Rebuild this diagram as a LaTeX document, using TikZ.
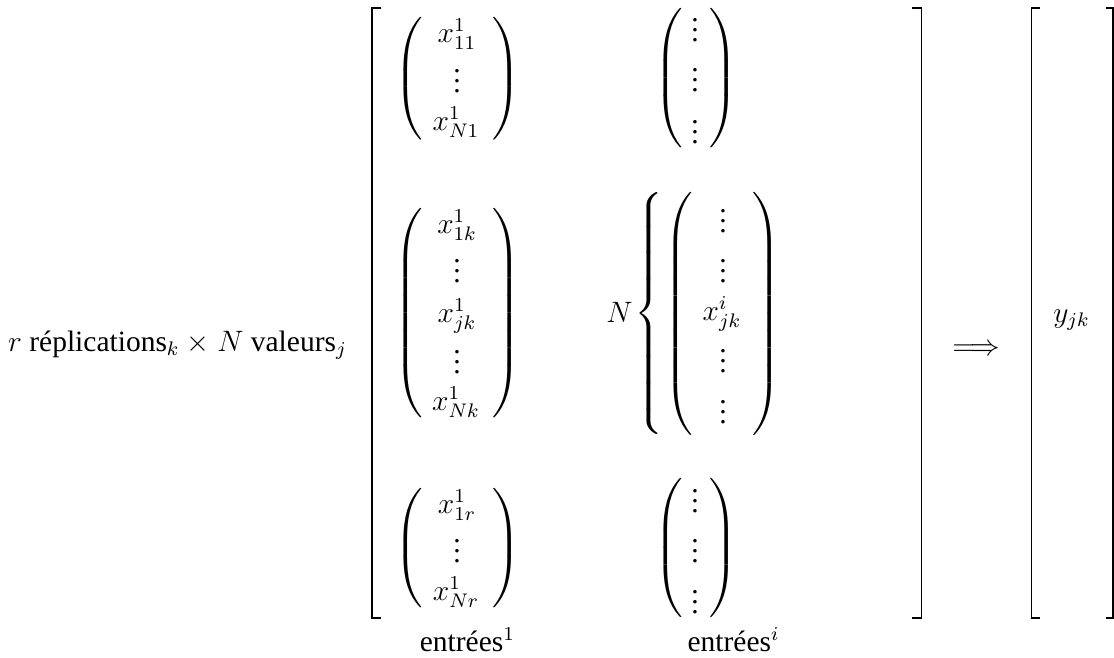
\documentclass[tikz,border=0pt]{standalone}
\usepackage{fontspec}
\setmainfont{Liberation Serif}
\newfontfamily\tfont{Liberation Serif}
\usepackage{graphicx}
\DeclareFontShape{OMX}{cmex}{m}{n}{<->cmex10}{}
\newdimen\pxunit \pxunit=0.4068pt
\newcommand\tallpar[2]{\resizebox*{1.1\width}{#2}{$\delimiterfactor=1000 \delimitershortfall=0pt \nulldelimiterspace=0pt \left#1\vcenter to #2{}\right.$}}
\newcommand\tallparR[2]{\resizebox*{1.1\width}{#2}{$\delimiterfactor=1000 \delimitershortfall=0pt \nulldelimiterspace=0pt \left.\vcenter to #2{}\right#1$}}
\tikzset{
  ent/.style={inner sep=0pt, anchor=base},
  dts/.style={inner sep=0pt, anchor=base},
  par/.style={inner sep=0pt, anchor=center},
  brk/.style={line width=0.55pt, line join=miter},
}
\begin{document}
\begin{tikzpicture}[x=0.4068pt, y=-0.4068pt, font=\tfont\fontsize{12}{14.4}\selectfont]
\useasboundingbox (0,0) rectangle (1114,657);
% left label
\node[ent] (lab) at (177.5,351) {$r$ \tfont réplications$_k$ $\times$ $N$ valeurs$_j$};
% big brackets
\draw[brk] (381,8) -- (372,8) -- (372,618) -- (381,618);
\draw[brk] (912,8) -- (921.5,8) -- (921.5,618) -- (912,618);
\draw[brk] (1040,8) -- (1031.7,8) -- (1031.7,618) -- (1040,618);
\draw[brk] (1106,8) -- (1113,8) -- (1113,618) -- (1106,618);
% column 1, top group
\node[par] (p1tl) at (409,78.5) {\tallpar{(}{123\pxunit}};
\node[par] (p1tr) at (507,78.5) {\tallparR{)}{123\pxunit}};
\node[ent] (e11) at (457,42) {$x^1_{11}$};
\node[dts] (d11) at (457,92) {$\vdots$};
\node[ent] (eN1) at (456,130) {$x^1_{N1}$};
% column 1, middle group
\node[par] (p1ml) at (409,313) {\tallpar{(}{210\pxunit}};
\node[par] (p1mr) at (507,313) {\tallparR{)}{210\pxunit}};
\node[ent] (e1k) at (457,233) {$x^1_{1k}$};
\node[dts] (d1k) at (457,282) {$\vdots$};
\node[ent] (ejk) at (457,322) {$x^1_{jk}$};
\node[dts] (d2k) at (457,373) {$\vdots$};
\node[ent] (eNk) at (456,410) {$x^1_{Nk}$};
% column 1, bottom group
\node[par] (p1bl) at (409,548) {\tallpar{(}{120\pxunit}};
\node[par] (p1br) at (507,548) {\tallparR{)}{120\pxunit}};
\node[ent] (e1r) at (457,513) {$x^1_{1r}$};
\node[dts] (d1r) at (457,562) {$\vdots$};
\node[ent] (eNr) at (456,600) {$x^1_{Nr}$};
\node[ent] (in1) at (467.4,651) {\tfont entrées$^1$};
% column 2, top group
\node[par] (p2tl) at (669,78) {\tallpar{(}{140\pxunit}};
\node[par] (p2tr) at (723.5,78) {\tallparR{)}{140\pxunit}};
\node[dts] (f1) at (695,41) {$\vdots$};
\node[dts] (f2) at (695,91) {$\vdots$};
\node[dts] (f3) at (695,143) {$\vdots$};
% column 2, middle group
\node[ent] (Nlab) at (619.5,322) {$N$};
\node[par] (br) at (649,313.5) {\tallpar{\{}{243\pxunit}};
\node[par] (p2ml) at (679,313.5) {\tallpar{(}{243\pxunit}};
\node[par] (p2mr) at (766.5,313.5) {\tallparR{)}{243\pxunit}};
\node[dts] (g1) at (723,232) {$\vdots$};
\node[dts] (g2) at (723,282) {$\vdots$};
\node[ent] (eijk) at (722,320) {$x^i_{jk}$};
\node[dts] (g3) at (723,372) {$\vdots$};
\node[dts] (g4) at (723,423) {$\vdots$};
% column 2, bottom group
\node[par] (p2bl) at (669,547.5) {\tallpar{(}{139\pxunit}};
\node[par] (p2br) at (723.5,547.5) {\tallparR{)}{139\pxunit}};
\node[dts] (h1) at (695,512) {$\vdots$};
\node[dts] (h2) at (695,562) {$\vdots$};
\node[dts] (h3) at (695,613) {$\vdots$};
\node[ent] (ini) at (733.5,651) {\tfont entrées$^i$};
% implication and result
\node[par] (impl) at (976,350) {$\Longrightarrow$};
\node[ent] (y) at (1071.5,322) {$y_{jk}$};
\end{tikzpicture}
\end{document}
